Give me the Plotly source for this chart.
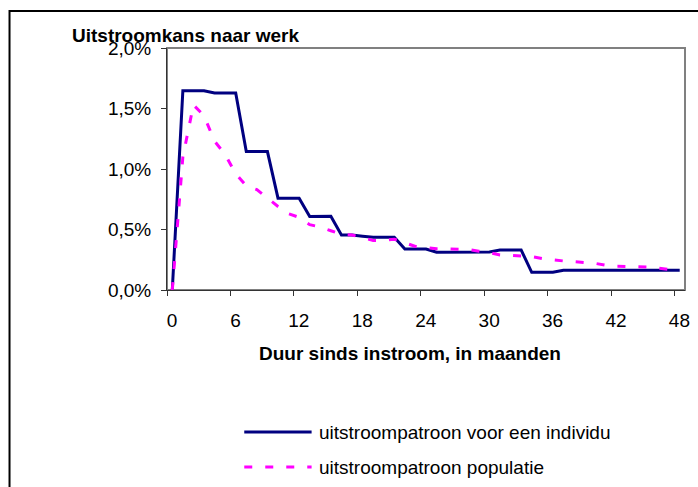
import plotly.graph_objects as go

# ---- data (percent) ----
maanden = list(range(49))
individu = [0, 1.647, 1.647, 1.647, 1.628, 1.628, 1.628, 1.144, 1.144, 1.144,
            0.759, 0.759, 0.759, 0.607, 0.607, 0.61, 0.455, 0.455, 0.445, 0.436,
            0.436, 0.436, 0.339, 0.339, 0.339, 0.312, 0.312, 0.312, 0.312, 0.312,
            0.315, 0.331, 0.331, 0.331, 0.146, 0.146, 0.146, 0.163, 0.163, 0.163,
            0.163, 0.163, 0.163, 0.163, 0.163, 0.163, 0.163, 0.163, 0.163]
populatie = [0, 1.10, 1.53, 1.44, 1.23, 1.12, 0.96, 0.86, 0.83, 0.76,
             0.69, 0.63, 0.60, 0.54, 0.52, 0.49, 0.46, 0.455, 0.43, 0.41,
             0.41, 0.42, 0.39, 0.36, 0.35, 0.34, 0.34, 0.337, 0.335, 0.32,
             0.309, 0.29, 0.284, 0.28, 0.276, 0.26, 0.248, 0.24, 0.234, 0.23,
             0.22, 0.205, 0.196, 0.195, 0.193, 0.19, 0.18, 0.17, 0.16]
x_tick_labels = ["0", "6", "12", "18", "24", "30", "36", "42", "48"]
y_tick_values = [0, 0.5, 1.0, 1.5, 2.0]
y_tick_labels = ["0,0%", "0,5%", "1,0%", "1,5%", "2,0%"]
naam_individu = "uitstroompatroon voor een individu"
naam_populatie = "uitstroompatroon populatie"
titel = "Uitstroomkans naar werk"
x_titel = "Duur sinds instroom, in maanden"

FONT = "Liberation Sans, Arial, sans-serif"
W, H = 698, 487
# plot area in screen pixels
L, R, T, B = 167, 690, 48, 290
pw, ph = R - L, B - T


def px_x(p):
    return (p - L) / pw


def px_y(p):
    return (B - p) / ph


BLUE = "#000080"
MAGENTA = "#FF00FF"
DASH = "8px,13px"

fig = go.Figure()
fig.add_trace(go.Scatter(x=maanden, y=individu, mode="lines", name=naam_individu,
                         line=dict(color=BLUE, width=3), showlegend=False))
fig.add_trace(go.Scatter(x=maanden, y=populatie, mode="lines", name=naam_populatie,
                         line=dict(color=MAGENTA, width=3, dash=DASH),
                         showlegend=False))

tick_pos = [int(v) - 0.5 for v in x_tick_labels]

fig.update_layout(
    width=W, height=H,
    margin=dict(l=L, r=W - R, t=T, b=H - B, pad=0),
    paper_bgcolor="white", plot_bgcolor="white",
    font=dict(family=FONT, size=19, color="black"),
    showlegend=False,
    xaxis=dict(range=[-0.5, 48.5], tickvals=tick_pos, ticktext=x_tick_labels,
               ticks="outside", ticklen=5, tickcolor="#333", showline=True,
               linecolor="#333", linewidth=1, showgrid=False, zeroline=False,
               ticklabelshift=5, ticklabelstandoff=8,
               tickfont=dict(size=19, family=FONT)),
    yaxis=dict(range=[0, 2.0], tickvals=y_tick_values, ticktext=y_tick_labels,
               ticks="outside", ticklen=5, tickcolor="#333",
               showline=True, linecolor="#333", linewidth=1, showgrid=False,
               zeroline=False, ticklabelstandoff=6,
               tickfont=dict(size=19, family=FONT)),
    shapes=[
        # plot area border (gray top/right)
        dict(type="rect", xref="paper", yref="paper", x0=0, x1=1, y0=0, y1=1,
             line=dict(color="#808080", width=2), layer="below"),
        # outer chart border
        dict(type="rect", xref="paper", yref="paper",
             x0=px_x(8), x1=px_x(720), y0=px_y(11), y1=px_y(520),
             line=dict(color="black", width=2)),
        # legend samples
        dict(type="line", xref="paper", yref="paper",
             x0=px_x(245), x1=px_x(313), y0=px_y(432), y1=px_y(432),
             line=dict(color=BLUE, width=3)),
        dict(type="line", xref="paper", yref="paper",
             x0=px_x(245), x1=px_x(313), y0=px_y(467), y1=px_y(467),
             line=dict(color=MAGENTA, width=3, dash=DASH)),
    ],
    annotations=[
        dict(text="<b>" + titel + "</b>", xref="paper", yref="paper",
             x=px_x(69), y=px_y(35), xanchor="left", yanchor="middle",
             showarrow=False, font=dict(size=19, family=FONT)),
        dict(text="<b>" + x_titel + "</b>", xref="paper", yref="paper",
             x=px_x(258), y=px_y(353), xanchor="left", yanchor="middle",
             showarrow=False, font=dict(size=19, family=FONT)),
        dict(text=naam_individu, xref="paper", yref="paper",
             x=px_x(318), y=px_y(432), xanchor="left", yanchor="middle",
             showarrow=False, font=dict(size=19, family=FONT)),
        dict(text=naam_populatie, xref="paper", yref="paper",
             x=px_x(318), y=px_y(467), xanchor="left", yanchor="middle",
             showarrow=False, font=dict(size=19, family=FONT)),
    ],
)

fig.write_html("out.html",
               config={"displayModeBar": False},
               post_script="document.body.style.margin='0';"
                           "document.body.style.overflow='hidden';")
